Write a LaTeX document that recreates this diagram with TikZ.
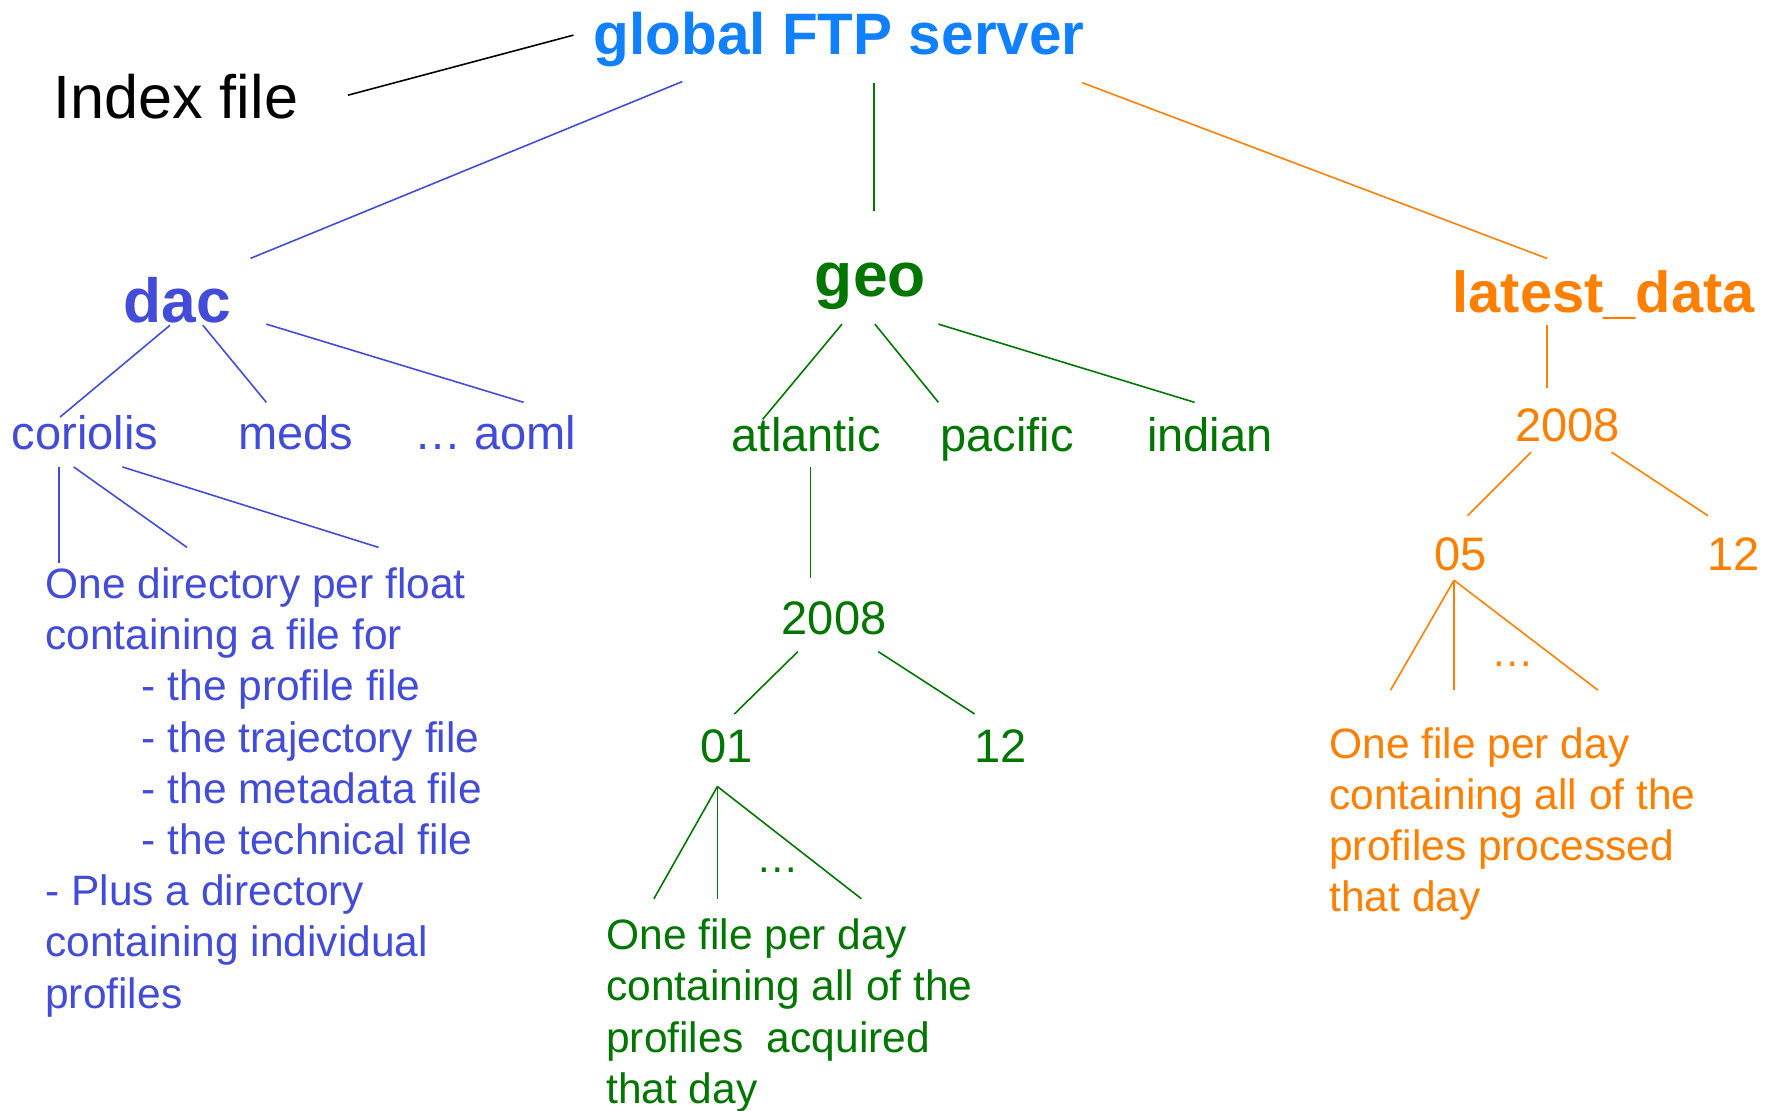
\documentclass[tikz,border=0pt]{standalone}
\usepackage{fontspec}
\setmainfont{Liberation Sans}
\usetikzlibrary{calc}
\definecolor{ftpblue}{RGB}{16,128,255}
\definecolor{dacblue}{RGB}{66,76,216}
\definecolor{geogreen}{RGB}{0,118,0}
\definecolor{latorange}{RGB}{255,128,0}
\begin{document}
\begin{tikzpicture}[x=1pt,y=-1pt,
  every node/.style={inner sep=0pt, outer sep=0pt},
  head/.style={anchor=base, font=\fontsize{#1}{#1}\selectfont\bfseries},
  lab/.style={anchor=base, font=\fontsize{41.5}{50}\selectfont},
  blk/.style={anchor=base west, align=left, font=\fontsize{37.5}{45.2}\selectfont},
  ellip/.style={anchor=base, font=\fontsize{37.5}{45}\selectfont},
  conn/.style={line width=1.4pt}
]
\fill[white] (0,0) rectangle (1568,980);
\useasboundingbox (0,0) rectangle (1568,980);

% top
\node[head=51.6, text=ftpblue] (glob) at (740.5,48) {global FTP server};
\node[anchor=base, font=\fontsize{54}{60}\selectfont] (idx) at (155,105) {Index file};

% level 1
\node[head=55, text=dacblue] (dac) at (156.5,285) {dac};
\node[head=55, text=geogreen] (geo) at (768,262) {geo};
\node[head=51, text=latorange] (lat) at (1415,276) {latest\_data};

% level 2
\node[lab, text=dacblue] (cor) at (75,397) {coriolis};
\node[lab, text=dacblue] (meds) at (261,397) {meds};
\node[lab, text=dacblue] (aoml) at (437,397) {… aoml};
\node[lab, text=geogreen] (atl) at (711.5,398) {atlantic};
\node[lab, text=geogreen] (pac) at (888.5,398) {pacific};
\node[lab, text=geogreen] (ind) at (1067.5,398) {indian};
\node[lab, text=latorange] (oyr) at (1383,390) {2008};

% level 3
\node[lab, text=geogreen] (gyr) at (736,560) {2008};
\node[lab, text=geogreen] (g01) at (641,673) {01};
\node[lab, text=geogreen] (g12) at (883,673) {12};
\node[lab, text=latorange] (o05) at (1289,503) {05};
\node[lab, text=latorange] (o12) at (1530,503) {12};

% dots
\node[ellip, text=geogreen] (gdots) at (686,770) {…};
\node[ellip, text=latorange] (odots) at (1335,588) {…};

% blocks (base anchor = baseline of the last line)
\node[blk, text=dacblue] (cblk) at (40,889.6) {One directory per float\\
containing a file for\\
\hspace*{85pt}- the profile file\\
\hspace*{85pt}- the trajectory file\\
\hspace*{85pt}- the metadata file\\
\hspace*{85pt}- the technical file\\
- Plus a directory\\
containing individual\\
profiles};
\node[blk, text=geogreen] (gblk) at (535,973.6) {One file per day\\
containing all of the\\
profiles\ \ acquired\\
that day};
\node[blk, text=latorange] (oblk) at (1173,804.6) {One file per day\\
containing all of the\\
profiles processed\\
that day};

% connectors
\draw[conn, black] ($(idx.base)+(152,-21)$) -- ($(glob.base)+(-234.5,-17)$);
\draw[conn, dacblue] ($(glob.base)+(-138.5,24)$) -- ($(dac.base)+(64.5,-57)$);
\draw[conn, geogreen] ($(glob.base)+(30.5,25)$) -- ($(geo.base)+(3,-76)$);
\draw[conn, latorange] ($(glob.base)+(214.5,25)$) -- ($(lat.base)+(-50,-48)$);

\draw[conn, dacblue] ($(dac.base)+(-6.5,2)$) -- ($(cor.base)+(-22,-29)$);
\draw[conn, dacblue] ($(dac.base)+(22.5,2)$) -- ($(meds.base)+(-26,-42)$);
\draw[conn, dacblue] ($(dac.base)+(78.5,1)$) -- ($(aoml.base)+(25,-42)$);

\draw[conn, geogreen] ($(geo.base)+(-25,24)$) -- ($(atl.base)+(-38.5,-28)$);
\draw[conn, geogreen] ($(geo.base)+(4,24)$) -- ($(pac.base)+(-60.5,-43)$);
\draw[conn, geogreen] ($(geo.base)+(60,24)$) -- ($(ind.base)+(-13.5,-43)$);

\draw[conn, latorange] ($(lat.base)+(-50,11)$) -- ($(oyr.base)+(-18,-48)$);

\draw[conn, dacblue] ($(cor.base)+(-23,15)$) -- ($(cblk.base west)+(12,-392.6)$);
\draw[conn, dacblue] ($(cor.base)+(-10,15)$) -- ($(cblk.base west)+(125,-406.6)$);
\draw[conn, dacblue] ($(cor.base)+(33,15)$) -- ($(cblk.base west)+(294,-406.6)$);

\draw[conn, geogreen] ($(atl.base)+(3.5,14)$) -- ($(gyr.base)+(-21,-50)$);
\draw[conn, geogreen] ($(gyr.base)+(-32,15)$) -- ($(g01.base)+(7,-43)$);
\draw[conn, geogreen] ($(gyr.base)+(39,15)$) -- ($(g12.base)+(-23,-43)$);
\draw[conn, geogreen] ($(g01.base)+(-8,21)$) -- ($(gblk.base west)+(42,-180.6)$);
\draw[conn, geogreen] ($(g01.base)+(-8,21)$) -- ($(gblk.base west)+(98,-180.6)$);
\draw[conn, geogreen] ($(g01.base)+(-8,21)$) -- ($(gblk.base west)+(225,-180.6)$);

\draw[conn, latorange] ($(oyr.base)+(-32,9)$) -- ($(o05.base)+(6,-48)$);
\draw[conn, latorange] ($(oyr.base)+(39,9)$) -- ($(o12.base)+(-23,-48)$);
\draw[conn, latorange] ($(o05.base)+(-6,9)$) -- ($(oblk.base west)+(54,-195.6)$);
\draw[conn, latorange] ($(o05.base)+(-6,9)$) -- ($(oblk.base west)+(110,-195.6)$);
\draw[conn, latorange] ($(o05.base)+(-6,9)$) -- ($(oblk.base west)+(237,-195.6)$);
\end{tikzpicture}
\end{document}
